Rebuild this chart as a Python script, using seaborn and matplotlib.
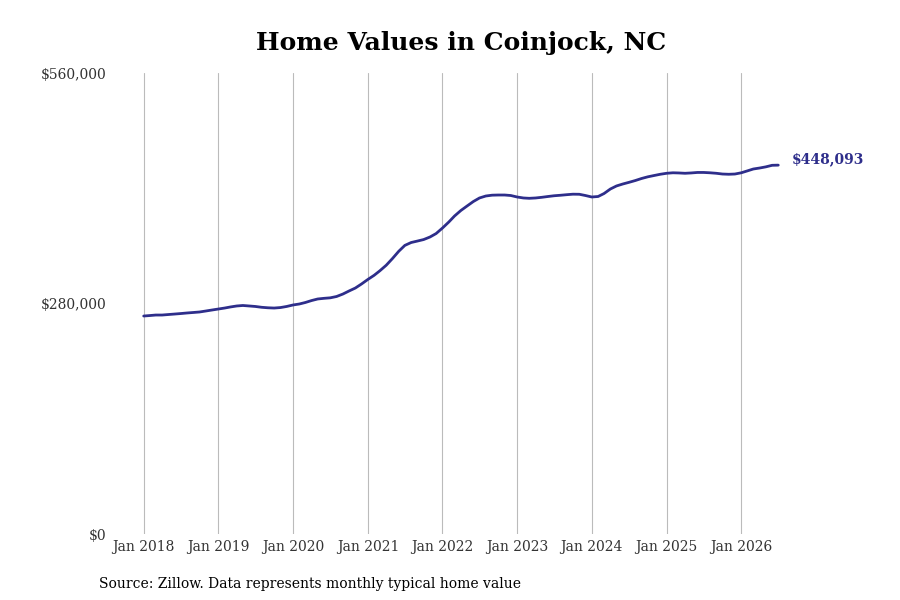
import pandas as pd
import seaborn as sns
import matplotlib.pyplot as plt
import matplotlib.dates as mdates
from matplotlib.ticker import FuncFormatter

# typical home value, thousands of dollars, monthly from Jan 2018
values_k = [
    264.8, 265.4, 266.0, 266.0, 266.6, 267.2, 267.8, 268.5, 269.1, 269.7, 270.9, 272.1,  # 2018
    273.3, 274.5, 275.8, 277.0, 277.6, 277.0, 276.4, 275.4, 274.8, 274.5, 275.1, 276.4,  # 2019
    278.2, 279.4, 281.2, 283.6, 285.5, 286.3, 286.9, 288.5, 291.5, 295.2, 298.8, 303.7,  # 2020
    309.2, 314.3, 319.8, 326.5, 334.5, 343.4, 350.6, 354.1, 355.9, 357.7, 360.8, 365.0,  # 2021
    371.7, 379.0, 386.3, 393.0, 398.4, 403.9, 408.2, 410.6, 411.6, 411.8, 411.8, 411.2,  # 2022
    409.4, 408.2, 407.8, 408.2, 409.0, 410.0, 410.9, 411.5, 412.2, 412.8, 412.7, 411.2,  # 2023
    409.4, 410.0, 413.6, 419.1, 422.8, 425.2, 427.2, 429.4, 431.9, 433.9, 435.5, 437.0,  # 2024
    438.2, 438.8, 438.6, 438.2, 438.6, 439.2, 439.2, 438.8, 438.2, 437.3, 437.0, 437.3,  # 2025
    438.8, 441.2, 443.4, 444.6, 446.0, 447.9, 448.093,                                   # 2026
]
start_month = '2018-01-01'
y_ticks = [0, 280000, 560000]
x_tick_years = list(range(2018, 2027))
title = 'Home Values in Coinjock, NC'
source = 'Source: Zillow. Data represents monthly typical home value'
line_color = '#2e2e8b'

df = pd.DataFrame({
    'date': pd.date_range(start_month, periods=len(values_k), freq='MS'),
    'value': [v * 1000 for v in values_k],
})

sns.set_style('white')
plt.rcParams['font.family'] = ['DejaVu Serif']

fig = plt.figure(figsize=(9, 6), dpi=100)
ax = fig.add_axes([0.1244, 0.11, 0.7756, 0.7683])
sns.lineplot(data=df, x='date', y='value', color=line_color, linewidth=2, ax=ax)

ax.set_ylim(0, 560000)
ax.set_yticks(y_ticks)
ax.yaxis.set_major_formatter(FuncFormatter(lambda v, p: f'${v:,.0f}'))
ax.set_xticks([pd.Timestamp(f'{y}-01-01') for y in x_tick_years])
ax.xaxis.set_major_formatter(mdates.DateFormatter('%b %Y'))
ax.tick_params(axis='both', length=0, labelsize=10, labelcolor='#333333')
ax.tick_params(axis='x', pad=4)
ax.tick_params(axis='y', pad=4)
ax.grid(axis='x', color='#bbbbbb', linewidth=0.8)
ax.grid(axis='y', visible=False)
sns.despine(ax=ax, left=True, bottom=True)
ax.set_xlabel('')
ax.set_ylabel('')

last = df.iloc[-1]
ax.annotate(f"${last['value']:,.0f}", (last['date'], last['value']),
            xytext=(10, 4), textcoords='offset points', color=line_color,
            fontsize=10, fontweight='bold', va='center', ha='left', annotation_clip=False)

fig.text(0.512, 0.928, title, fontsize=18, fontweight='bold', color='black',
         ha='center', va='center')
fig.text(0.11, 0.02, source, fontsize=10, color='black')

fig.savefig('out.png', dpi=100)
